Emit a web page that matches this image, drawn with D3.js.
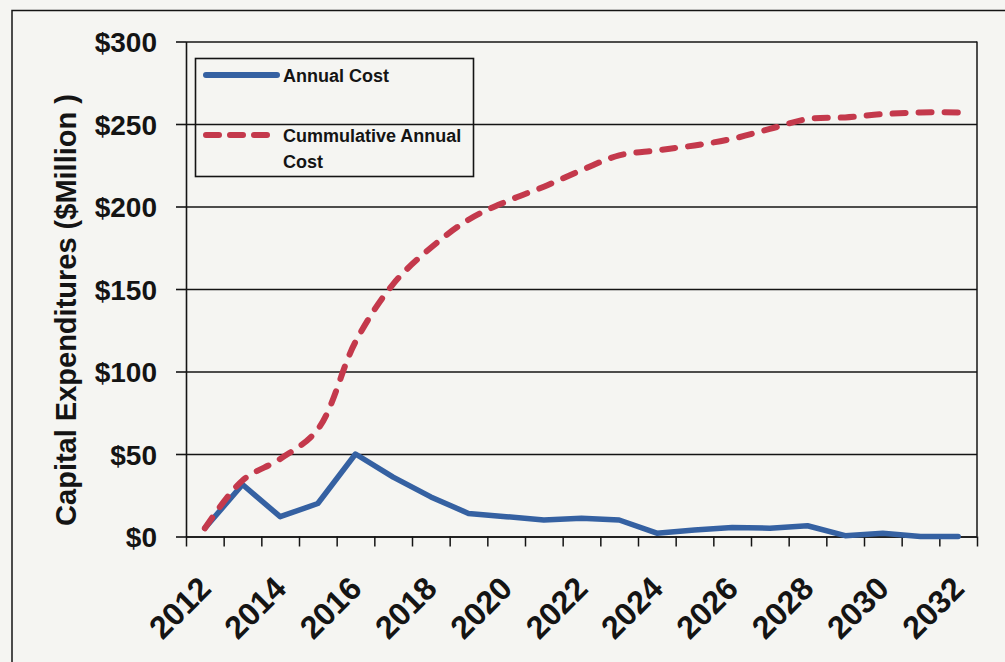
<!DOCTYPE html>
<html>
<head>
<meta charset="utf-8">
<script src="https://cdn.jsdelivr.net/npm/d3@7"></script>
<style>
  html, body { margin: 0; padding: 0; background: #f5f5f2; }
  svg { display: block; font-family: "Liberation Sans", Arial, sans-serif; font-weight: bold; }
</style>
</head>
<body>
<svg id="chart" width="1005" height="662"></svg>
<script>
// Capital expenditure schedule, $ million per year
const years = [2012, 2013, 2014, 2015, 2016, 2017, 2018, 2019, 2020, 2021, 2022,
               2023, 2024, 2025, 2026, 2027, 2028, 2029, 2030, 2031, 2032];
const annualCost = [5, 31.5, 12, 20, 50, 36, 24, 14, 12, 10, 11,
                    10, 2, 4, 5.5, 5, 6.5, 0.5, 2, 0, 0];
const cumulativeCost = [5, 34, 47, 65, 118, 153, 175, 192, 203, 212, 222,
                        231, 234, 237, 241, 247, 253, 254, 256, 257, 257];
const yTickValues = [0, 50, 100, 150, 200, 250, 300];
const xLabelYears = [2012, 2014, 2016, 2018, 2020, 2022, 2024, 2026, 2028, 2030, 2032];
const seriesNames = ["Annual Cost", "Cummulative Annual Cost"];
const yAxisTitle = "Capital Expenditures ($Million )";

const W = 1005, H = 662;
const plot = { left: 186, right: 977, top: 41.5, bottom: 536.5 };
const ink = "#141414";
const blue = "#3561a2";
const red = "#c4394c";

const svg = d3.select("#chart");
svg.append("rect").attr("width", W).attr("height", H).attr("fill", "#f5f5f2");

// outer chart frame (top and left edges visible)
svg.append("path")
  .attr("d", `M12,${H + 5} V10.5 H${W + 5}`)
  .attr("fill", "none").attr("stroke", ink).attr("stroke-width", 1.5);

// scales: each year is a category slot; lines pass through slot centres
const x = d3.scaleLinear()
  .domain([years[0] - 0.5, years[years.length - 1] + 0.5])
  .range([plot.left, plot.right]);
const y = d3.scaleLinear().domain([0, 300]).range([plot.bottom, plot.top]);

// horizontal gridlines
const grid = svg.append("g")
  .attr("transform", `translate(${plot.left},0)`)
  .call(d3.axisLeft(y).tickValues(yTickValues).tickSize(-(plot.right - plot.left)).tickFormat(""));
grid.select(".domain").remove();
grid.selectAll("line").attr("stroke", ink).attr("stroke-width", 1.6);

// right edge of plot area
svg.append("line")
  .attr("x1", plot.right).attr("x2", plot.right)
  .attr("y1", y(300)).attr("y2", y(0))
  .attr("stroke", ink).attr("stroke-width", 1.5);

// y axis with dollar labels
const yAxis = svg.append("g")
  .attr("transform", `translate(${plot.left},0)`)
  .call(d3.axisLeft(y).tickValues(yTickValues).tickSize(10).tickSizeOuter(0)
        .tickPadding(19).tickFormat(d => "$" + d));
yAxis.select(".domain").attr("stroke", ink).attr("stroke-width", 1.6);
yAxis.selectAll("line").attr("stroke", ink).attr("stroke-width", 1.6);
yAxis.selectAll("text")
  .attr("font-family", "Liberation Sans, Arial, sans-serif")
  .attr("font-weight", "bold").attr("font-size", 28).attr("fill", ink)
  .attr("dy", "0.36em");

// x axis: ticks on the slot boundaries
const boundaries = years.map(d => d - 0.5).concat([years[years.length - 1] + 0.5]);
const xAxis = svg.append("g")
  .attr("transform", `translate(0,${plot.bottom})`)
  .call(d3.axisBottom(x).tickValues(boundaries).tickSize(10).tickSizeOuter(0).tickFormat(""));
xAxis.select(".domain").attr("stroke", ink).attr("stroke-width", 1.6);
xAxis.selectAll("line").attr("stroke", ink).attr("stroke-width", 1.5);

// rotated year labels, every other year
svg.append("g").selectAll("text")
  .data(xLabelYears)
  .join("text")
  .attr("transform", d => `translate(${x(d) + 8},${plot.bottom + 54}) rotate(-45)`)
  .attr("text-anchor", "end")
  .attr("font-size", 32)
  .attr("fill", ink)
  .text(d => d);

// y axis title
svg.append("text")
  .attr("transform", `translate(76,310) rotate(-90)`)
  .attr("text-anchor", "middle")
  .attr("font-size", 29)
  .attr("fill", ink)
  .text(yAxisTitle);

// series lines
const annualLine = d3.line()
  .x((d, i) => x(years[i]))
  .y(d => y(d))
  .curve(d3.curveLinear);
const cumulativeLine = d3.line()
  .x((d, i) => x(years[i]))
  .y(d => y(d))
  .curve(d3.curveCatmullRom.alpha(0.5));

svg.append("path")
  .datum(annualCost)
  .attr("d", annualLine)
  .attr("fill", "none")
  .attr("stroke", blue)
  .attr("stroke-width", 5.5)
  .attr("stroke-linejoin", "round")
  .attr("stroke-linecap", "round");

svg.append("path")
  .datum(cumulativeCost)
  .attr("d", cumulativeLine)
  .attr("fill", "none")
  .attr("stroke", red)
  .attr("stroke-width", 6)
  .attr("stroke-dasharray", "13,13")
  .attr("stroke-linecap", "round");

// legend
const legend = svg.append("g");
legend.append("rect")
  .attr("x", 195.5).attr("y", 58.5).attr("width", 278).attr("height", 118)
  .attr("fill", "none").attr("stroke", ink).attr("stroke-width", 1.6);
legend.append("line")
  .attr("x1", 206).attr("x2", 277).attr("y1", 75).attr("y2", 75)
  .attr("stroke", blue).attr("stroke-width", 6).attr("stroke-linecap", "round");
legend.append("line")
  .attr("x1", 206).attr("x2", 267).attr("y1", 135).attr("y2", 135)
  .attr("stroke", red).attr("stroke-width", 6)
  .attr("stroke-dasharray", "13,11").attr("stroke-linecap", "round");
legend.append("text")
  .attr("x", 283).attr("y", 81.5)
  .attr("font-size", 18).attr("fill", ink)
  .text(seriesNames[0]);
const cumLabel = legend.append("text")
  .attr("x", 283).attr("y", 141.5)
  .attr("font-size", 18).attr("fill", ink);
cumLabel.append("tspan").attr("x", 283).text("Cummulative Annual");
cumLabel.append("tspan").attr("x", 283).attr("dy", 26.5).text("Cost");
</script>
</body>
</html>
